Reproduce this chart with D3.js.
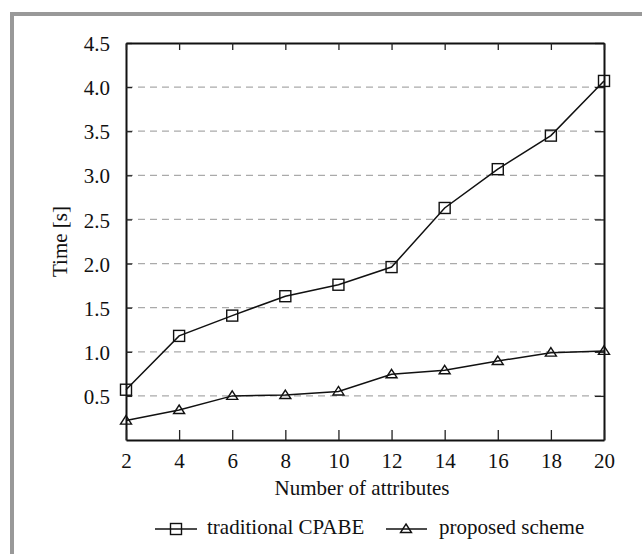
<!DOCTYPE html>
<html><head><meta charset="utf-8">
<script src="https://cdn.jsdelivr.net/npm/d3@7"></script>
<style>body{margin:0;background:#fff}svg{display:block}text{font-family:"Liberation Serif","Times New Roman",serif;fill:#111}</style>
</head><body>
<svg id="c" width="642" height="554"></svg>
<script>
const attributes = [2,4,6,8,10,12,14,16,18,20];
const traditionalCPABE = [0.57,1.18,1.41,1.63,1.76,1.96,2.63,3.07,3.45,4.07];
const proposedScheme = [0.22,0.34,0.50,0.51,0.55,0.745,0.79,0.895,0.99,1.01];
const yTicks = [0.5,1.0,1.5,2.0,2.5,3.0,3.5,4.0,4.5];
const seriesNames = ["traditional CPABE","proposed scheme"];

const FS = "21px";
const svg = d3.select("#c");
// frame
svg.append("path").attr("d","M12,554 L12,14 L642,14").attr("fill","none").attr("stroke","#999").attr("stroke-width",4);

const L=126,R=604,T=43,B=440;
const x = d3.scaleLinear().domain([2,20]).range([L,R]);
const y = d3.scaleLinear().domain([0,4.5]).range([B,T]);

// gridlines
svg.append("g").selectAll("line").data(yTicks.filter(d=>d<4.5)).join("line")
  .attr("x1",L).attr("x2",R).attr("y1",d=>y(d)).attr("y2",d=>y(d))
  .attr("stroke","#aaa").attr("stroke-width",1.3).attr("stroke-dasharray","7,5");

// axes
const fmt = d3.format(".1f");
const gl = svg.append("g").attr("transform",`translate(${L},0)`)
  .call(d3.axisLeft(y).tickValues(yTicks).tickFormat(fmt).tickSizeInner(-6).tickSizeOuter(0).tickPadding(16));
const gr = svg.append("g").attr("transform",`translate(${R},0)`)
  .call(d3.axisRight(y).tickValues(yTicks).tickFormat("").tickSizeInner(-9).tickSizeOuter(0));
const gb = svg.append("g").attr("transform",`translate(0,${B})`)
  .call(d3.axisBottom(x).tickValues(attributes).tickSizeInner(-10).tickSizeOuter(0).tickPadding(13));
const gt = svg.append("g").attr("transform",`translate(0,${T})`)
  .call(d3.axisTop(x).tickValues(attributes).tickFormat("").tickSizeInner(-7).tickSizeOuter(0));
[gl,gr,gb,gt].forEach(g=>{
  g.attr("font-family",null).attr("font-size",null);
  g.select(".domain").attr("stroke","#111").attr("stroke-width",2);
  g.selectAll(".tick line").attr("stroke","#222").attr("stroke-width",1.3);
  g.selectAll("text").style("font-family",'"Liberation Serif",serif').style("font-size",FS).attr("fill","#111");
});
gl.selectAll("text").attr("dy","0.36em");

// titles
svg.append("text").attr("x",(L+R)/2-3).attr("y",495).attr("text-anchor","middle").style("font-size",FS).text("Number of attributes");
svg.append("text").attr("transform",`translate(67,${(T+B)/2}) rotate(-90)`).attr("text-anchor","middle").style("font-size",FS).text("Time [s]");

const line = d3.line().x((d,i)=>x(attributes[i])).y(d=>y(d));
function sq(g,cx,cy){g.append("rect").attr("x",cx-5.5).attr("y",cy-5.5).attr("width",11).attr("height",11).attr("fill","none").attr("stroke","#111").attr("stroke-width",1.4);}
function tri(g,cx,cy){g.append("path").attr("d",`M${cx},${cy-5} L${cx+5.5},${cy+3.5} L${cx-5.5},${cy+3.5} Z`).attr("fill","none").attr("stroke","#111").attr("stroke-width",1.4);}

const s1 = svg.append("g");
s1.append("path").attr("d",line(traditionalCPABE)).attr("fill","none").attr("stroke","#111").attr("stroke-width",1.5);
traditionalCPABE.forEach((v,i)=>sq(s1,x(attributes[i]),y(v)));
const s2 = svg.append("g");
s2.append("path").attr("d",line(proposedScheme)).attr("fill","none").attr("stroke","#111").attr("stroke-width",1.5);
proposedScheme.forEach((v,i)=>tri(s2,x(attributes[i]),y(v)));

// legend
const ly=529;
const lg = svg.append("g");
lg.append("line").attr("x1",155).attr("x2",197).attr("y1",ly).attr("y2",ly).attr("stroke","#111").attr("stroke-width",1.5);
sq(lg,176,ly);
lg.append("text").attr("x",207).attr("y",ly+5).style("font-size",FS).text(seriesNames[0]);
lg.append("line").attr("x1",386).attr("x2",427).attr("y1",ly).attr("y2",ly).attr("stroke","#111").attr("stroke-width",1.5);
tri(lg,406,ly);
lg.append("text").attr("x",439).attr("y",ly+5).style("font-size",FS).text(seriesNames[1]);
</script>
</body></html>
